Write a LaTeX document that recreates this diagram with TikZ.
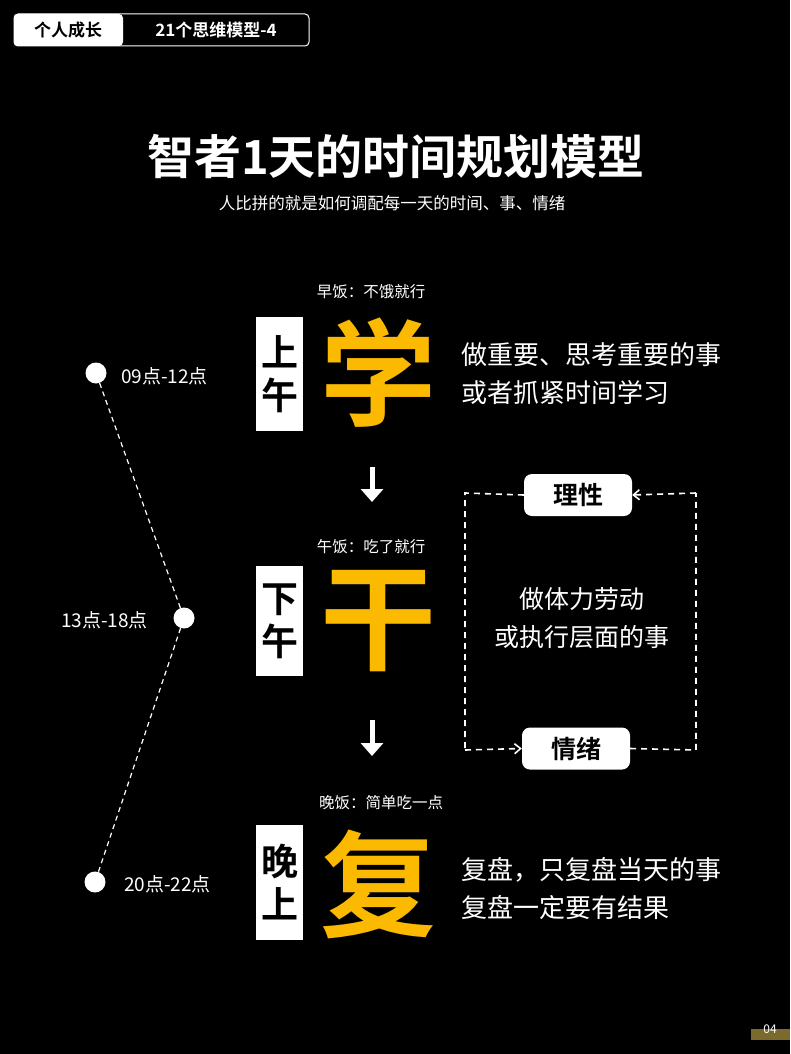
\documentclass[tikz,border=0pt]{standalone}
\usepackage{fontspec}
\setmainfont{Noto Sans CJK SC}[BoldFont={Noto Sans CJK SC Bold}]
\usetikzlibrary{arrows.meta}
\definecolor{gold}{HTML}{FBBA00}
\definecolor{olive}{HTML}{7A6A2E}
\begin{document}
\begin{tikzpicture}[x=1pt,y=-1pt,
  txt/.style={text=white,inner sep=0pt},
  dot/.style={circle,fill=white,minimum size=21pt,inner sep=0pt},
  side/.style={fill=white,minimum width=47pt,inner sep=0pt,text=black,font=\bfseries\fontsize{37}{43}\selectfont,align=center},
  big/.style={text=gold,inner sep=0pt,font=\bfseries\fontsize{116}{116}\selectfont},
  meal/.style={txt,font=\fontsize{15.5}{17}\selectfont},
  desc/.style={txt,font=\fontsize{26}{38}\selectfont,align=left,anchor=west},
  tag/.style={fill=white,rounded corners=8pt,minimum width=108pt,minimum height=42pt,inner sep=0pt,text=black,font=\bfseries\fontsize{25}{27}\selectfont},
  dl/.style={draw=white,line width=1.6pt,dash pattern=on 6pt off 5pt},
  dlt/.style={draw=white,line width=1.2pt,dash pattern=on 5pt off 4pt},
  bigarrow/.style={draw=white,line width=5pt,-{Triangle[width=22pt,length=13pt]}}]
\fill[black] (0,0) rectangle (790,1054);
% header tag
\draw[white,line width=1pt,rounded corners=4pt] (14,14) rectangle (309,46);
\fill[white,rounded corners=4pt] (14,14) rectangle (123,46);
\node[inner sep=0pt,font=\bfseries\fontsize{17}{19}\selectfont] (tag1) at (68,30) {个人成长};
\node[txt,font=\bfseries\fontsize{17}{19}\selectfont] (tag2) at (216,30) {21个思维模型-4};
% title
\node[txt,font=\bfseries\fontsize{47}{50}\selectfont] (title) at (396,156) {智者1天的时间规划模型};
\node[txt,font=\fontsize{16.5}{18}\selectfont] (sub) at (392,203) {人比拼的就是如何调配每一天的时间、事、情绪};
% timeline
\node[dot] (d1) at (96,373) {};
\node[dot] (d2) at (184,618) {};
\node[dot] (d3) at (95,882) {};
\draw[dlt] (d1) -- (d2) -- (d3);
\node[txt,font=\fontsize{19}{21}\selectfont,anchor=west] (t1) at (121,376) {09点-12点};
\node[txt,font=\fontsize{19}{21}\selectfont,anchor=east] (t2) at (148,620) {13点-18点};
\node[txt,font=\fontsize{19}{21}\selectfont,anchor=west] (t3) at (124,884) {20点-22点};
% row 1
\node[meal] (m1) at (371,292) {早饭：不饿就行};
\node[side,minimum height=114pt] (s1) at (279.5,374) {上\\午};
\node[big] (b1) at (378,373) {学};
\node[desc] (r1) at (461,374) {做重要、思考重要的事\\或者抓紧时间学习};
\coordinate (a1s) at (372,467);
\coordinate (a1e) at (372,502);
\draw[bigarrow] (a1s) -- (a1e);
% row 2
\node[meal] (m2) at (371,547) {午饭：吃了就行};
\node[side,minimum height=110pt] (s2) at (279.5,621) {下\\午};
\node[big] (b2) at (378,621) {干};
\coordinate (a2s) at (372,720);
\coordinate (a2e) at (372,756);
\draw[bigarrow] (a2s) -- (a2e);
% row 3
\node[meal] (m3) at (381,803) {晚饭：简单吃一点};
\node[side,minimum height=115pt] (s3) at (279.5,882) {晚\\上};
\node[big] (b3) at (378,884) {复};
\node[desc] (r3) at (461,889) {复盘，只复盘当天的事\\复盘一定要有结果};
% loop
\node[tag] (li) at (578,495) {理性};
\node[tag] (qx) at (576,748.5) {情绪};
\node[txt,font=\fontsize{25}{38}\selectfont,align=center] (mid) at (582,618) {做体力劳动\\或执行层面的事};
\coordinate (c1) at (465,493);
\coordinate (c2) at (465,750);
\coordinate (c3) at (696,750);
\coordinate (c4) at (696,493);
\draw[dl] (li.west) -- (c1) -- (c2);
\draw[dl,-{Straight Barb[length=6pt,width=10pt]}] (c2) -- (qx.west);
\draw[dl] (qx.east) -- (c3) -- (c4);
\draw[dl,-{Straight Barb[length=6pt,width=10pt]}] (c4) -- (li.east);
% page number
\fill[olive] (751,1029) rectangle (790,1040);
\node[txt,font=\fontsize{12}{13}\selectfont] (pg) at (770,1029) {04};
\end{tikzpicture}
\end{document}
